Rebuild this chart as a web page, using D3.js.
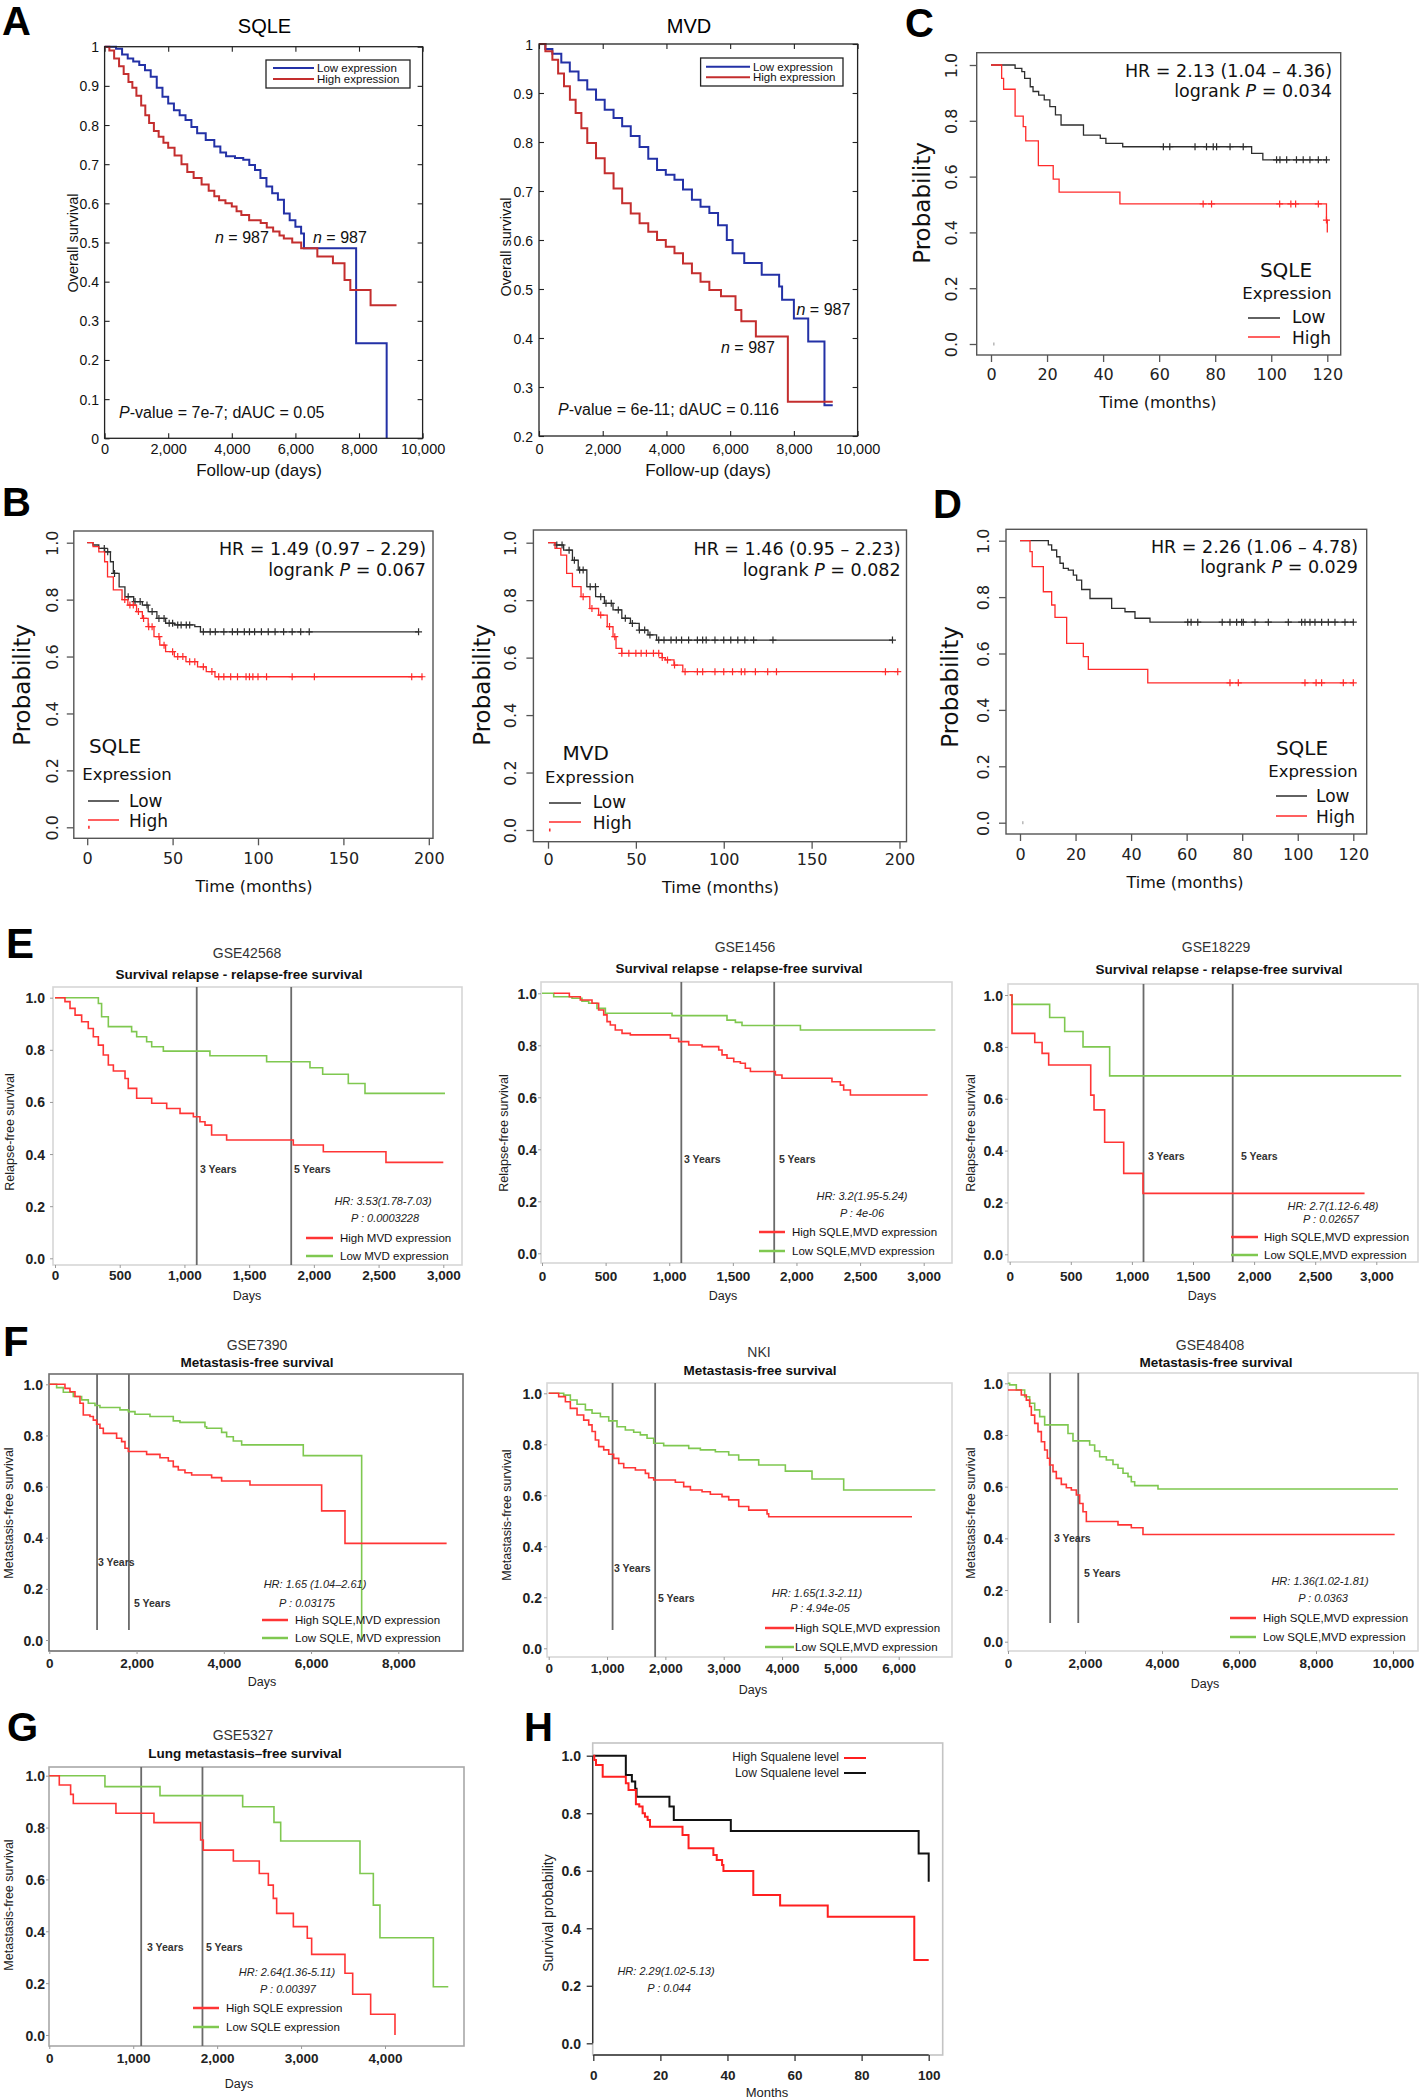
<!DOCTYPE html>
<html><head><meta charset="utf-8">
<script src="https://cdn.jsdelivr.net/npm/d3@7"></script>
<style>html,body{margin:0;padding:0;background:#fff;}svg{display:block;}</style>
</head><body>
<svg id="fig" width="1420" height="2100" xmlns="http://www.w3.org/2000/svg"></svg>
<script>
// ======================= DATA =======================
// Panel A : follow-up (days) vs overall survival
const aXTicks = [0,2000,4000,6000,8000,10000];
const aSqleYTicks = [0,0.1,0.2,0.3,0.4,0.5,0.6,0.7,0.8,0.9,1];
const aMvdYTicks = [0.2,0.3,0.4,0.5,0.6,0.7,0.8,0.9,1];
const aLegend = ["Low expression","High expression"];
const aSqleLow = [[0,1],[360,0.995],[550,0.98],[727,0.97],[900,0.962],[1090,0.953],[1270,0.94],[1450,0.923],[1640,0.895],[1820,0.872],[2000,0.855],[2180,0.838],[2360,0.825],[2545,0.813],[2730,0.795],[2910,0.779],[3180,0.762],[3450,0.745],[3640,0.73],[3820,0.72],[4100,0.716],[4360,0.711],[4550,0.698],[4730,0.685],[4900,0.665],[5090,0.643],[5270,0.626],[5450,0.609],[5640,0.574],[5820,0.557],[6000,0.54],[6180,0.523],[6270,0.485],[7910,0.243],[8870,0]];
const aSqleHigh = [[0,1],[150,0.99],[300,0.97],[455,0.95],[600,0.93],[750,0.91],[873,0.895],[1000,0.875],[1150,0.85],[1280,0.825],[1400,0.805],[1550,0.785],[1700,0.77],[1850,0.755],[2000,0.742],[2200,0.722],[2418,0.7],[2600,0.68],[2800,0.665],[3050,0.648],[3273,0.632],[3450,0.618],[3600,0.608],[3800,0.6],[4000,0.592],[4150,0.58],[4300,0.57],[4545,0.557],[4909,0.55],[5100,0.538],[5300,0.528],[5500,0.518],[5636,0.51],[5900,0.5],[6182,0.485],[6690,0.464],[7180,0.447],[7545,0.404],[7727,0.379],[8364,0.34],[9180,0.34]];
const aMvdLow = [[0,1],[200,0.99],[420,0.98],[700,0.962],[967,0.944],[1240,0.926],[1515,0.907],[1790,0.886],[2062,0.866],[2340,0.849],[2610,0.832],[2880,0.812],[3157,0.79],[3430,0.766],[3705,0.743],[3980,0.733],[4252,0.723],[4520,0.703],[4800,0.682],[5070,0.668],[5347,0.655],[5620,0.63],[5895,0.6],[6077,0.573],[6442,0.553],[6990,0.529],[7537,0.505],[7630,0.478],[8000,0.44],[8450,0.393],[8960,0.263],[9220,0.263]];
const aMvdHigh = [[0,1],[200,0.985],[420,0.968],[600,0.94],[785,0.914],[970,0.886],[1150,0.859],[1330,0.828],[1515,0.798],[1790,0.767],[2062,0.736],[2340,0.705],[2610,0.675],[2880,0.654],[3157,0.634],[3430,0.617],[3705,0.6],[3980,0.586],[4252,0.573],[4520,0.552],[4800,0.532],[5070,0.515],[5347,0.498],[5712,0.485],[6168,0.457],[6351,0.434],[6807,0.403],[7811,0.27],[9220,0.27]];

// Panels B, C, D : time (months) vs probability
const rYTicks = [0,0.2,0.4,0.6,0.8,1.0];
const bXTicks = [0,50,100,150,200];
const cdXTicks = [0,20,40,60,80,100,120];
const rLegend = ["Low","High"];
const rOriginMark = [1,0];
const bSqleLow = [[0,1],[3.4,0.992],[6.8,0.98],[10.2,0.968],[13.6,0.933],[15.3,0.892],[18.7,0.845],[22.1,0.81],[27.2,0.793],[32.3,0.781],[35.7,0.758],[40.8,0.734],[45.9,0.717],[51,0.711],[63,0.705],[66.3,0.687],[193.8,0.687]];
const bSqleLowCens = [10,12,16,24,28,31,35,38,42,45,48,50,53,55,58,60,68,72,75,80,85,88,92,95,98,102,106,110,115,120,125,130,194];
const bSqleHigh = [[0,1],[3.4,0.986],[6.8,0.968],[10.2,0.933],[11.9,0.88],[15.3,0.834],[20.4,0.8],[23.8,0.781],[28.9,0.758],[32.3,0.734],[35.7,0.705],[39.1,0.67],[42.5,0.64],[45.9,0.617],[51,0.6],[57.8,0.582],[64.6,0.564],[69.7,0.547],[74.8,0.529],[196.5,0.529]];
const bSqleHighCens = [22,25,27,30,33,36,38,42,45,50,53,56,60,63,68,73,77,80,84,88,93,95,97,100,105,120,133,190,196];
const bMvdLow = [[0,1],[4,0.992],[8.9,0.974],[13.9,0.939],[17.2,0.905],[22.1,0.847],[27.1,0.812],[32.1,0.789],[37,0.766],[42,0.737],[46.9,0.719],[51.9,0.696],[56.9,0.679],[61.8,0.661],[196.4,0.661]];
const bMvdLowCens = [5,8,12,15,18,20,24,27,30,33,36,40,44,48,52,55,58,63,66,70,73,76,80,85,88,90,95,100,104,108,112,117,128,196];
const bMvdHigh = [[0,1],[4,0.98],[7.3,0.957],[10.6,0.893],[13.9,0.847],[18.8,0.812],[23.8,0.771],[28.8,0.748],[33.7,0.708],[37,0.673],[38.7,0.632],[42,0.615],[65,0.6],[66.8,0.592],[71.7,0.574],[76.7,0.551],[199,0.551]];
const bMvdHighCens = [20,25,30,35,38,42,46,50,53,56,60,63,65,68,72,78,85,88,95,100,105,110,112,118,125,130,192,199];
const cLow = [[0,1],[8.6,0.988],[11,0.976],[12,0.952],[14,0.922],[15,0.905],[17,0.892],[19,0.875],[21,0.851],[23,0.821],[25,0.785],[33,0.749],[39,0.737],[41,0.719],[47,0.707],[93,0.683],[97,0.66],[120,0.66]];
const cLowCens = [61.5,63.8,72.8,76.9,79.3,80.5,85.3,90,101.9,103.1,105.5,109,111.4,113.8,116.8,119.7];
const cHigh = [[0,1],[3.8,0.952],[4.5,0.913],[8.6,0.817],[11.5,0.779],[12.4,0.728],[16.9,0.639],[22.2,0.591],[24.3,0.544],[46,0.502],[119.7,0.444],[120,0.40]];
const cHighCens = [75.7,78.7,103,107,108.7,116.8,119.7];
const dLow = [[0,1],[10.2,0.985],[11.4,0.967],[13.2,0.943],[14.4,0.92],[15.6,0.902],[17.4,0.896],[19.2,0.878],[20.4,0.86],[22.2,0.827],[25.2,0.795],[33,0.76],[37.8,0.748],[41.4,0.725],[46.8,0.711],[120,0.711]];
const dLowCens = [60.4,61.6,64,72.8,75.6,78,79.8,80.4,84.6,89.4,96.6,101.4,102.6,104.4,106.2,108.6,111,113.4,117,120];
const dHigh = [[0,1],[3.6,0.961],[4.4,0.908],[8.4,0.819],[11.4,0.772],[12.6,0.728],[16.8,0.636],[22.8,0.589],[24.6,0.544],[46,0.496],[120,0.496]];
const dHighCens = [75.6,78.6,102.6,106.6,108.6,116.4,120];

// Panels E, F, G : days vs relapse / metastasis-free survival
const wYTicks = [0,0.2,0.4,0.6,0.8,1.0];
const eXTicks = [0,500,1000,1500,2000,2500,3000];
const f1XTicks = [0,2000,4000,6000,8000];
const f2XTicks = [0,1000,2000,3000,4000,5000,6000];
const f3XTicks = [0,2000,4000,6000,8000,10000];
const gXTicks = [0,1000,2000,3000,4000];
const yearDays = [1095,1825];
const yearLabels = ["3 Years","5 Years"];
const e1Low = [[0,1],[335,0.978],[360,0.927],[412,0.889],[592,0.87],[631,0.85],[708,0.831],[747,0.812],[837,0.795],[1197,0.777],[1635,0.754],[1970,0.731],[2068,0.706],[2266,0.671],[2395,0.633],[3013,0.633]];
const e1High = [[0,1],[77,0.985],[116,0.959],[155,0.933],[206,0.908],[257,0.882],[296,0.85],[335,0.818],[373,0.78],[412,0.742],[451,0.719],[541,0.69],[566,0.652],[631,0.614],[747,0.595],[863,0.575],[966,0.556],[1069,0.543],[1120,0.524],[1159,0.511],[1210,0.473],[1326,0.454],[1841,0.435],[2073,0.409],[2557,0.368],[3000,0.368]];
const e2Low = [[0,1],[92,0.987],[236,0.981],[314,0.97],[367,0.962],[432,0.942],[498,0.923],[1022,0.914],[1454,0.897],[1520,0.888],[1572,0.876],[2031,0.859],[3092,0.859]];
const e2High = [[92,1],[215,0.987],[301,0.974],[393,0.962],[445,0.936],[485,0.917],[511,0.891],[537,0.878],[576,0.859],[629,0.846],[694,0.84],[1009,0.827],[1074,0.814],[1153,0.801],[1258,0.795],[1389,0.782],[1415,0.763],[1454,0.75],[1507,0.737],[1559,0.731],[1598,0.712],[1638,0.699],[1834,0.686],[1886,0.673],[2279,0.66],[2345,0.647],[2371,0.628],[2424,0.609],[3031,0.609]];
const e3Low = [[0,1],[19,0.964],[327,0.913],[450,0.859],[600,0.8],[818,0.688],[3204,0.688]];
const e3High = [[0,1],[19,0.852],[205,0.817],[265,0.775],[319,0.73],[663,0.614],[690,0.557],[777,0.432],[933,0.312],[1091,0.235],[2904,0.235]];
const f1Low = [[0,1],[168,0.987],[321,0.969],[550,0.952],[741,0.939],[894,0.926],[1047,0.917],[1161,0.909],[1620,0.9],[1811,0.893],[1964,0.883],[2308,0.874],[2842,0.857],[2995,0.851],[3568,0.834],[3606,0.828],[3950,0.812],[4065,0.795],[4218,0.778],[4409,0.763],[5822,0.721],[7160,0]];
const f1High = [[0,1],[359,0.984],[474,0.971],[588,0.952],[703,0.926],[779,0.88],[932,0.874],[1009,0.86],[1085,0.844],[1161,0.828],[1238,0.808],[1543,0.789],[1658,0.776],[1735,0.75],[1811,0.737],[2231,0.726],[2537,0.713],[2728,0.7],[2842,0.678],[2957,0.665],[3110,0.654],[3263,0.645],[3721,0.635],[3950,0.622],[4600,0.606],[6243,0.505],[6778,0.378],[9108,0.378]];
const f2Low = [[0,1],[257,0.993],[371,0.974],[486,0.957],[629,0.935],[743,0.922],[886,0.908],[1029,0.892],[1171,0.869],[1314,0.856],[1457,0.847],[1571,0.837],[1686,0.824],[1800,0.804],[1971,0.795],[2400,0.784],[2600,0.778],[2857,0.771],[3086,0.758],[3257,0.739],[3600,0.719],[4057,0.695],[4514,0.664],[5057,0.621],[6628,0.621]];
const f2High = [[0,1],[171,0.987],[286,0.967],[371,0.941],[486,0.915],[600,0.895],[686,0.876],[743,0.85],[800,0.817],[857,0.791],[943,0.778],[1029,0.761],[1114,0.745],[1200,0.725],[1286,0.708],[1486,0.699],[1657,0.686],[1714,0.669],[1800,0.66],[2171,0.651],[2314,0.634],[2429,0.621],[2629,0.614],[2771,0.604],[2971,0.595],[3086,0.582],[3257,0.556],[3429,0.542],[3743,0.527],[3771,0.516],[6228,0.516]];
const f3Low = [[0,1],[43,0.994],[216,0.974],[433,0.948],[563,0.923],[693,0.897],[823,0.871],[952,0.839],[1558,0.806],[1688,0.777],[2121,0.761],[2251,0.738],[2381,0.716],[2554,0.703],[2727,0.686],[2857,0.671],[2987,0.652],[3117,0.639],[3203,0.619],[3290,0.604],[3896,0.591],[10130,0.591]];
const f3High = [[0,0.974],[346,0.955],[476,0.935],[563,0.91],[606,0.877],[693,0.845],[779,0.813],[866,0.774],[952,0.742],[1022,0.71],[1082,0.684],[1169,0.658],[1255,0.632],[1385,0.609],[1515,0.596],[1645,0.587],[1775,0.568],[1861,0.535],[1948,0.503],[2035,0.465],[2857,0.452],[3203,0.441],[3506,0.415],[10043,0.415]];
const gLow = [[0,1],[663,0.958],[1319,0.923],[2304,0.88],[2677,0.82],[2757,0.748],[3702,0.623],[3861,0.501],[3940,0.375],[4576,0.186],[4754,0.186]];
const gHigh = [[0,1],[119,0.964],[254,0.928],[286,0.893],[794,0.855],[1247,0.819],[1803,0.752],[1835,0.713],[2193,0.671],[2502,0.623],[2610,0.578],[2669,0.527],[2709,0.469],[2908,0.418],[3074,0.373],[3126,0.311],[3523,0.238],[3615,0.157],[3829,0.08],[4119,0]];

// Panel H : months vs survival probability (squalene level)
const hXTicks = [0,20,40,60,80,100];
const hYTicks = [0,0.2,0.4,0.6,0.8,1.0];
const hLegend = ["High Squalene level","Low Squalene level"];
const hLow = [[0,1],[9.7,0.933],[11.5,0.91],[12.5,0.885],[12.9,0.857],[22.7,0.823],[24,0.776],[41,0.738],[97,0.66],[100,0.562]];
const hHigh = [[0,1],[0.3,0.985],[0.8,0.968],[2.8,0.927],[9.7,0.904],[10.5,0.881],[12.7,0.831],[13.7,0.823],[14.7,0.8],[15.4,0.788],[16.2,0.776],[16.9,0.753],[26.6,0.724],[28.4,0.678],[35.8,0.655],[36.8,0.637],[38.4,0.62],[38.8,0.599],[47.7,0.516],[55.7,0.479],[69.9,0.44],[95.7,0.29],[100,0.29]];

// ======================= DRAWING =======================
const SANS = "'Liberation Sans', Arial, Helvetica, sans-serif";
const DEJ = "'DejaVu Sans', Verdana, sans-serif";
const svg = d3.select('#fig');
svg.append('rect').attr('width',1420).attr('height',2100).attr('fill','#fff');

function T(g,x,y,s,o){
  o=o||{};
  const t=g.append('text').attr('x',x).attr('y',y)
    .attr('font-family',o.ff||SANS).attr('font-size',o.fs||13)
    .attr('fill',o.fill||'#111').attr('text-anchor',o.a||'start');
  if(o.fw) t.attr('font-weight',o.fw);
  if(o.it) t.attr('font-style','italic');
  if(o.db) t.attr('dominant-baseline',o.db);
  if(o.rot!=null) t.attr('transform',`rotate(${o.rot},${x},${y})`);
  if(Array.isArray(s)) s.forEach(p=>{const ts=t.append('tspan').text(p[0]); if(p[1]) ts.attr('font-style','italic');});
  else t.text(s);
  return t;
}
function survAt(c,t){let v=c[0][1];for(const p of c){if(p[0]<=t)v=p[1];else break;}return v;}
function drawCurves(g,x,y,series){
  const line=d3.line().x(d=>x(d[0])).y(d=>y(d[1])).curve(d3.curveStepAfter);
  series.forEach(s=>{
    g.append('path').datum(s.data).attr('d',line).attr('fill','none')
      .attr('stroke',s.color).attr('stroke-width',s.w).attr('stroke-linejoin','miter').attr('stroke-linecap','butt');
    if(s.cens){
      const z=s.cz||4;
      g.append('g').selectAll('path').data(s.cens).join('path')
        .attr('d',t=>{const cx=x(t),cy=y(survAt(s.data,t));return `M${cx-z},${cy}H${cx+z}M${cx},${cy-z}V${cy+z}`;})
        .attr('stroke',s.color).attr('stroke-width',1.2).attr('fill','none');
    }
  });
}
function styleAxis(a,col,w){a.select('.domain').remove();a.selectAll('line').attr('stroke',col).attr('stroke-width',w);return a;}

// ---------- Panel letters ----------
[['A',2,35,40],['B',2,516,40],['C',905,37,40],['D',933,518,40],['E',6,958,42],['F',3,1356,42],['G',7,1741,40],['H',524,1741,40]]
  .forEach(l=>T(svg,l[1],l[2],l[0],{fs:l[3],fw:'bold',fill:'#000'}));

// ---------- Panel A (MATLAB style) ----------
const BLUE='#2331a6', MRED='#c42e2e';
const aPanels=[
 {box:[104.6,46.7,422.6,438.3], yDomain:[0,1], yTicks:aSqleYTicks, low:aSqleLow, high:aSqleHigh,
  title:['SQLE',264.5,33], yLabX:99, ylab:[72.7,243], xlab:[259,476], xLabBase:454,
  leg:{x0:266,y0:60,x1:410,y1:88,l0:273,l1:314,ly1:68,ly2:79,tx:317},
  n:[[215,243],[313,243]], pv:[119,418,'7e-7','0.05']},
 {box:[539,44,857.6,436], yDomain:[0.2,1], yTicks:aMvdYTicks, low:aMvdLow, high:aMvdHigh,
  title:['MVD',689,33], yLabX:533, ylab:[506,247], xlab:[708,476], xLabBase:454,
  leg:{x0:700.6,y0:58,x1:843,y1:86,l0:706,l1:750,ly1:66.7,ly2:77.3,tx:753},
  n:[[796.5,315],[721,353]], pv:[558,415,'6e-11','0.116']}
];
aPanels.forEach(p=>{
  const g=svg.append('g');
  const [x0,y0,x1,y1]=p.box;
  const x=d3.scaleLinear().domain([0,10000]).range([x0,x1]);
  const y=d3.scaleLinear().domain(p.yDomain).range([y1,y0]);
  const b=g.append('g').attr('transform',`translate(0,${y1})`).call(d3.axisBottom(x).tickValues(aXTicks).tickFormat(d3.format(',')).tickSizeInner(-5).tickSizeOuter(0));
  styleAxis(b,'#222',1.1);
  b.selectAll('text').attr('y',p.xLabBase-y1).attr('dy',null).attr('font-family',SANS).attr('font-size',14.5).attr('fill','#111');
  styleAxis(g.append('g').attr('transform',`translate(0,${y0})`).call(d3.axisTop(x).tickValues(aXTicks).tickFormat('').tickSizeInner(-5).tickSizeOuter(0)),'#222',1.1);
  const l=g.append('g').attr('transform',`translate(${x0},0)`).call(d3.axisLeft(y).tickValues(p.yTicks).tickFormat(v=>String(v)).tickSizeInner(-5).tickSizeOuter(0));
  styleAxis(l,'#222',1.1);
  l.selectAll('text').attr('x',p.yLabX-x0).attr('dy',null).attr('dominant-baseline','central').attr('font-family',SANS).attr('font-size',14).attr('fill','#111');
  styleAxis(g.append('g').attr('transform',`translate(${x1},0)`).call(d3.axisRight(y).tickValues(p.yTicks).tickFormat('').tickSizeInner(-5).tickSizeOuter(0)),'#222',1.1);
  drawCurves(g,x,y,[{data:p.low,color:BLUE,w:2},{data:p.high,color:MRED,w:2}]);
  g.append('rect').attr('x',x0).attr('y',y0).attr('width',x1-x0).attr('height',y1-y0).attr('fill','none').attr('stroke','#222').attr('stroke-width',1.3);
  T(g,p.title[1],p.title[2],p.title[0],{fs:20,a:'middle',fill:'#000'});
  T(g,p.ylab[0],p.ylab[1],'Overall survival',{fs:14.5,a:'middle',rot:-90,db:'central'});
  T(g,p.xlab[0],p.xlab[1],'Follow-up (days)',{fs:17,a:'middle'});
  const L=p.leg;
  g.append('rect').attr('x',L.x0).attr('y',L.y0).attr('width',L.x1-L.x0).attr('height',L.y1-L.y0).attr('fill','#fff').attr('stroke','#222').attr('stroke-width',1.3);
  [[L.ly1,BLUE,aLegend[0]],[L.ly2,MRED,aLegend[1]]].forEach(r=>{
    g.append('line').attr('x1',L.l0).attr('x2',L.l1).attr('y1',r[0]).attr('y2',r[0]).attr('stroke',r[1]).attr('stroke-width',2);
    T(g,L.tx,r[0],r[2],{fs:11.5,db:'central'});
  });
  p.n.forEach(q=>T(g,q[0],q[1],[['n',true],[' = 987']],{fs:16}));
  T(g,p.pv[0],p.pv[1],[['P',true],['-value = '+p.pv[2]+'; dAUC = '+p.pv[3]]],{fs:16});
});

// ---------- Panels B, C, D (R style) ----------
const RBLK='#2e2e2e', RRED='#ff2b2b';
const rPanels=[
 {box:[73.8,531,433,838.3], xDomain:[0,200], xRange:[87.2,428.8], yRange:[827.3,542.7], xTicks:bXTicks, xLabBase:864, yLabCX:52.3,
  ylab:[22,685], xlab:[254,892], hrX:426, hrY:[555,576], hr:'HR = 1.49 (0.97 \u2013 2.29)', p:'0.067', origin:RRED,
  leg:{title:'SQLE',tcx:115,tby:753,ecx:127,eby:780,l0:88,l1:119,ly1:801,ly2:820,tx:129,tb1:807,tb2:827},
  low:bSqleLow, high:bSqleHigh, lowC:bSqleLowCens, highC:bSqleHighCens},
 {box:[533.4,530,906.5,841.7], xDomain:[0,200], xRange:[548,899.5], yRange:[830,542.7], xTicks:bXTicks, xLabBase:865, yLabCX:510,
  ylab:[482,685], xlab:[720.5,893], hrX:900.6, hrY:[555,576], hr:'HR = 1.46 (0.95 \u2013 2.23)', p:'0.082', origin:RRED,
  leg:{title:'MVD',tcx:585.7,tby:760,ecx:589.8,eby:783,l0:549,l1:581,ly1:803,ly2:822,tx:592.7,tb1:808,tb2:829},
  low:bMvdLow, high:bMvdHigh, lowC:bMvdLowCens, highC:bMvdHighCens},
 {box:[976.7,52.7,1340.7,355], xDomain:[0,120], xRange:[991,1327.3], yRange:[344,65], xTicks:cdXTicks, xLabBase:380, yLabCX:951.7,
  ylab:[922,203], xlab:[1158,408], hrX:1332, hrY:[77,97], hr:'HR = 2.13 (1.04 \u2013 4.36)', p:'0.034', origin:'#bbbbbb',
  leg:{title:'SQLE',tcx:1286,tby:277,ecx:1287,eby:299,l0:1248,l1:1280,ly1:318,ly2:337,tx:1292,tb1:323,tb2:344},
  low:cLow, high:cHigh, lowC:cLowCens, highC:cHighCens},
 {box:[1006,529.3,1366.7,834], xDomain:[0,120], xRange:[1020,1353.3], yRange:[822.7,540.7], xTicks:cdXTicks, xLabBase:860, yLabCX:983,
  ylab:[950,687], xlab:[1185,888], hrX:1358, hrY:[553,573], hr:'HR = 2.26 (1.06 \u2013 4.78)', p:'0.029', origin:'#bbbbbb',
  leg:{title:'SQLE',tcx:1302,tby:755,ecx:1313,eby:777,l0:1276,l1:1307,ly1:796,ly2:816,tx:1316,tb1:802,tb2:823},
  low:dLow, high:dHigh, lowC:dLowCens, highC:dHighCens}
];
rPanels.forEach(p=>{
  const g=svg.append('g');
  const [x0,y0,x1,y1]=p.box;
  const x=d3.scaleLinear().domain(p.xDomain).range(p.xRange);
  const y=d3.scaleLinear().domain([0,1]).range(p.yRange);
  const b=g.append('g').attr('transform',`translate(0,${y1})`).call(d3.axisBottom(x).tickValues(p.xTicks).tickFormat(d3.format('d')).tickSizeInner(7).tickSizeOuter(0));
  styleAxis(b,'#555',1.3);
  b.selectAll('text').attr('y',p.xLabBase-y1).attr('dy',null).attr('font-family',DEJ).attr('font-size',16).attr('fill','#222');
  const l=g.append('g').attr('transform',`translate(${x0},0)`).call(d3.axisLeft(y).tickValues(rYTicks).tickFormat(d3.format('.1f')).tickSizeInner(7).tickSizeOuter(0));
  styleAxis(l,'#555',1.3);
  l.selectAll('text').attr('x',0).attr('y',0).attr('dy',null)
    .attr('transform',`translate(${p.yLabCX-x0},0) rotate(-90)`).attr('text-anchor','middle').attr('dominant-baseline','central')
    .attr('font-family',DEJ).attr('font-size',16).attr('fill','#222');
  g.append('rect').attr('x',x0).attr('y',y0).attr('width',x1-x0).attr('height',y1-y0).attr('fill','none').attr('stroke','#555').attr('stroke-width',1.4);
  // small mark at the origin as in the source plots
  g.append('line').attr('x1',x(rOriginMark[0])).attr('x2',x(rOriginMark[0]))
    .attr('y1',y(rOriginMark[1])-1.5).attr('y2',y(rOriginMark[1])+1.5).attr('stroke',p.origin).attr('stroke-width',1.6);
  drawCurves(g,x,y,[{data:p.low,color:RBLK,w:1.3,cens:p.lowC,cz:3.5},{data:p.high,color:RRED,w:1.3,cens:p.highC,cz:3.5}]);
  T(g,p.ylab[0],p.ylab[1],'Probability',{ff:DEJ,fs:23,a:'middle',rot:-90,db:'central',fill:'#111'});
  T(g,p.xlab[0],p.xlab[1],'Time (months)',{ff:DEJ,fs:16,a:'middle',fill:'#111'});
  T(g,p.hrX,p.hrY[0],p.hr,{ff:DEJ,fs:17.5,a:'end'});
  T(g,p.hrX,p.hrY[1],[['logrank '],['P',true],[' = '+p.p]],{ff:DEJ,fs:17.5,a:'end'});
  const L=p.leg;
  T(g,L.tcx,L.tby,L.title,{ff:DEJ,fs:20,a:'middle'});
  T(g,L.ecx,L.eby,'Expression',{ff:DEJ,fs:16.5,a:'middle'});
  [[L.ly1,L.tb1,RBLK,rLegend[0]],[L.ly2,L.tb2,RRED,rLegend[1]]].forEach(r=>{
    g.append('line').attr('x1',L.l0).attr('x2',L.l1).attr('y1',r[0]).attr('y2',r[0]).attr('stroke',r[2]).attr('stroke-width',1.5);
    T(g,L.tx,r[1],r[3],{ff:DEJ,fs:17});
  });
});

// ---------- Panels E, F, G (web style) ----------
const WRED='#ff3535', WGRN='#7fc850';
const wPanels=[
 {box:[53,987,462,1265], bc:'#d6d6d6', xDomain:[0,3000], xRange:[55,443.3], yRange:[1258.3,997.7], xTicks:eXTicks, xLabBase:1280, yLabR:45,
  title:['GSE42568',247,958], sub:['Survival relapse - relapse-free survival',239,979], ylab:['Relapse-free survival',10,1132], xlab:['Days',247,1300],
  vEnd:[1265,1265], yrs:[[200,1173],[294,1173]], hr:['HR: 3.53(1.78-7.03)',383,1205], p:['P : 0.0003228',385,1222],
  leg:{l0:306,l1:333,yR:1238,yG:1256,tx:340,high:'High MVD expression',low:'Low MVD  expression'}, red:e1High, green:e1Low},
 {box:[541,982,952,1263], bc:'#d6d6d6', xDomain:[0,3000], xRange:[542,923.7], yRange:[1253.3,993.3], xTicks:eXTicks, xLabBase:1281, yLabR:537,
  title:['GSE1456',745,952], sub:['Survival relapse - relapse-free survival',739,973], ylab:['Relapse-free survival',504,1133], xlab:['Days',723,1300],
  vEnd:[1263,1263], yrs:[[684,1163],[779,1163]], hr:['HR: 3.2(1.95-5.24)',862,1200], p:['P : 4e-06',862,1217],
  leg:{l0:759,l1:785,yR:1232,yG:1251,tx:792,high:'High SQLE,MVD expression',low:'Low SQLE,MVD  expression'}, red:e2High, green:e2Low},
 {box:[1008,984,1418,1262], bc:'#d6d6d6', xDomain:[0,3000], xRange:[1009.7,1376.3], yRange:[1254.3,995], xTicks:eXTicks, xLabBase:1281, yLabR:1003,
  title:['GSE18229',1216,952], sub:['Survival relapse - relapse-free survival',1219,974], ylab:['Relapse-free survival',971,1133], xlab:['Days',1202,1300],
  vEnd:[1262,1262], yrs:[[1148,1160],[1241,1160]], hr:['HR: 2.7(1.12-6.48)',1333,1210], p:['P : 0.02657',1331,1223],
  leg:{l0:1231,l1:1258,yR:1237,yG:1255,tx:1264,high:'High SQLE,MVD expression',low:'Low SQLE,MVD expression'}, red:e3High, green:e3Low},
 {box:[49,1374,463,1651], bc:'#6e6e6e', xDomain:[0,8000], xRange:[49.3,398.3], yRange:[1640,1384.3], xTicks:f1XTicks, xLabBase:1668, yLabR:43,
  title:['GSE7390',257,1350], sub:['Metastasis-free survival',257,1367], ylab:['Metastasis-free survival',9,1513], xlab:['Days',262,1686],
  vEnd:[1630,1630], yrs:[[98,1566],[134,1607]], hr:['HR: 1.65 (1.04\u20132.61)',315,1588], p:['P : 0.03175',307,1607],
  leg:{l0:262,l1:288,yR:1620,yG:1638,tx:295,high:'High SQLE,MVD expression',low:'Low SQLE, MVD expression'}, red:f1High, green:f1Low},
 {box:[547,1383,952,1657], bc:'#d8d8d8', xDomain:[0,6000], xRange:[548.7,898.7], yRange:[1648.3,1393.3], xTicks:f2XTicks, xLabBase:1673, yLabR:542,
  title:['NKI',759,1357], sub:['Metastasis-free survival',760,1375], ylab:['Metastasis-free survival',507,1515], xlab:['Days',753,1694],
  vEnd:[1630,1657], yrs:[[614,1572],[658,1602]], hr:['HR: 1.65(1.3-2.11)',817,1597], p:['P : 4.94e-05',820,1612],
  leg:{l0:765,l1:794,yR:1628,yG:1647,tx:795,high:'High SQLE,MVD expression',low:'Low SQLE,MVD expression'}, red:f2High, green:f2Low},
 {box:[1008,1373,1418,1651], bc:'#d8d8d8', xDomain:[0,10000], xRange:[1008,1393], yRange:[1641.7,1383.3], xTicks:f3XTicks, xLabBase:1668, yLabR:1003,
  title:['GSE48408',1210,1350], sub:['Metastasis-free survival',1216,1367], ylab:['Metastasis-free survival',971,1513], xlab:['Days',1205,1688],
  vEnd:[1623,1623], yrs:[[1054,1542],[1084,1577]], hr:['HR: 1.36(1.02-1.81)',1320,1585], p:['P : 0.0363',1323,1602],
  leg:{l0:1230,l1:1256,yR:1618,yG:1637,tx:1263,high:'High SQLE,MVD expression',low:'Low SQLE,MVD expression'}, red:f3High, green:f3Low},
 {box:[49,1767,464,2046], bc:'#a8a8a8', xDomain:[0,4000], xRange:[49.3,385], yRange:[2035,1775.7], xTicks:gXTicks, xLabBase:2063, yLabR:45,
  title:['GSE5327',243,1740], sub:['Lung metastasis\u2013free survival',245,1758], ylab:['Metastasis-free survival',9,1905], xlab:['Days',239,2088],
  vEnd:[2046,2046], yrs:[[147,1951],[206,1951]], hr:['HR: 2.64(1.36-5.11)',287,1976], p:['P : 0.00397',288,1993],
  leg:{l0:193,l1:219,yR:2008,yG:2027,tx:226,high:'High SQLE expression',low:'Low SQLE expression'}, red:gHigh, green:gLow}
];
wPanels.forEach(p=>{
  const g=svg.append('g');
  const [x0,y0,x1,y1]=p.box;
  const x=d3.scaleLinear().domain(p.xDomain).range(p.xRange);
  const y=d3.scaleLinear().domain([0,1]).range(p.yRange);
  g.append('rect').attr('x',x0).attr('y',y0).attr('width',x1-x0).attr('height',y1-y0).attr('fill','none').attr('stroke',p.bc).attr('stroke-width',1.6);
  const b=g.append('g').attr('transform',`translate(0,${y1})`).call(d3.axisBottom(x).tickValues(p.xTicks).tickFormat(d3.format(',')).tickSizeInner(3).tickSizeOuter(0));
  styleAxis(b,'#999',1);
  b.selectAll('text').attr('y',p.xLabBase-y1).attr('dy',null).attr('font-family',SANS).attr('font-size',13.5).attr('font-weight','bold').attr('fill','#222');
  const l=g.append('g').attr('transform',`translate(${x0},0)`).call(d3.axisLeft(y).tickValues(wYTicks).tickFormat(d3.format('.1f')).tickSizeInner(3).tickSizeOuter(0));
  styleAxis(l,'#999',1);
  l.selectAll('text').attr('x',p.yLabR-x0).attr('dy',null).attr('dominant-baseline','central').attr('font-family',SANS).attr('font-size',14).attr('font-weight','bold').attr('fill','#222');
  g.append('g').selectAll('line').data(yearDays).join('line')
    .attr('x1',d=>x(d)).attr('x2',d=>x(d)).attr('y1',y0).attr('y2',(d,i)=>p.vEnd[i])
    .attr('stroke','#6a6a6a').attr('stroke-width',1.8);
  drawCurves(g,x,y,[{data:p.green,color:WGRN,w:1.6},{data:p.red,color:WRED,w:1.6}]);
  p.yrs.forEach((q,i)=>T(g,q[0],q[1],yearLabels[i],{fs:10.5,fw:'bold',fill:'#333'}));
  T(g,p.title[1],p.title[2],p.title[0],{fs:14,a:'middle',fill:'#333'});
  T(g,p.sub[1],p.sub[2],p.sub[0],{fs:13.5,a:'middle',fw:'bold',fill:'#111'});
  T(g,p.ylab[1],p.ylab[2],p.ylab[0],{fs:12.5,a:'middle',rot:-90,db:'central',fill:'#222'});
  T(g,p.xlab[1],p.xlab[2],p.xlab[0],{fs:12.5,a:'middle',fill:'#222'});
  T(g,p.hr[1],p.hr[2],p.hr[0],{fs:11,a:'middle',it:true,fill:'#222'});
  T(g,p.p[1],p.p[2],p.p[0],{fs:11,a:'middle',it:true,fill:'#222'});
  const L=p.leg;
  [[L.yR,WRED,L.high],[L.yG,WGRN,L.low]].forEach(r=>{
    g.append('line').attr('x1',L.l0).attr('x2',L.l1).attr('y1',r[0]).attr('y2',r[0]).attr('stroke',r[1]).attr('stroke-width',2.5);
    T(g,L.tx,r[0],r[2],{fs:11.5,db:'central',fill:'#111'});
  });
});

// ---------- Panel H ----------
(function(){
  const g=svg.append('g');
  const [x0,y0,x1,y1]=[592.7,1743,942.7,2055];
  const x=d3.scaleLinear().domain([0,100]).range([593.3,928.7]);
  const y=d3.scaleLinear().domain([0,1]).range([2043.3,1755.7]);
  g.append('rect').attr('x',x0).attr('y',y0).attr('width',x1-x0).attr('height',y1-y0).attr('fill','none').attr('stroke','#c4c4c4').attr('stroke-width',1.6);
  const b=g.append('g').attr('transform',`translate(0,${y1})`).call(d3.axisBottom(x).tickValues(hXTicks).tickFormat(d3.format('d')).tickSizeInner(6).tickSizeOuter(0));
  b.select('.domain').attr('stroke','#333').attr('stroke-width',1.4).attr('d',`M${x(0)},0H${x(100)}`);
  b.selectAll('line').attr('stroke','#333').attr('stroke-width',1.3);
  b.selectAll('text').attr('y',2080-y1).attr('dy',null).attr('font-family',SANS).attr('font-size',13.5).attr('font-weight','bold').attr('fill','#222');
  const l=g.append('g').attr('transform',`translate(${x0},0)`).call(d3.axisLeft(y).tickValues(hYTicks).tickFormat(d3.format('.1f')).tickSizeInner(6).tickSizeOuter(0));
  l.select('.domain').attr('stroke','#333').attr('stroke-width',1.4).attr('d',`M0,${y(0)}V${y(1)}`);
  l.selectAll('line').attr('stroke','#333').attr('stroke-width',1.3);
  l.selectAll('text').attr('x',581-x0).attr('dy',null).attr('dominant-baseline','central').attr('font-family',SANS).attr('font-size',14).attr('font-weight','bold').attr('fill','#222');
  drawCurves(g,x,y,[{data:hLow,color:'#111',w:2},{data:hHigh,color:'#ff1f1f',w:2}]);
  T(g,548,1913,'Survival probability',{fs:14,a:'middle',rot:-90,db:'central',fill:'#222'});
  T(g,767,2097,'Months',{fs:13,a:'middle',fill:'#222'});
  T(g,666,1975,'HR: 2.29(1.02-5.13)',{fs:11,a:'middle',it:true,fill:'#222'});
  T(g,669,1992,'P : 0.044',{fs:11,a:'middle',it:true,fill:'#222'});
  [[1758,1761,'#ff1f1f',hLegend[0]],[1773,1777,'#111',hLegend[1]]].forEach(r=>{
    T(g,839,r[1],r[3],{fs:12,a:'end',fill:'#222'});
    g.append('line').attr('x1',844).attr('x2',866).attr('y1',r[0]).attr('y2',r[0]).attr('stroke',r[2]).attr('stroke-width',2);
  });
})();
</script>
</body></html>
